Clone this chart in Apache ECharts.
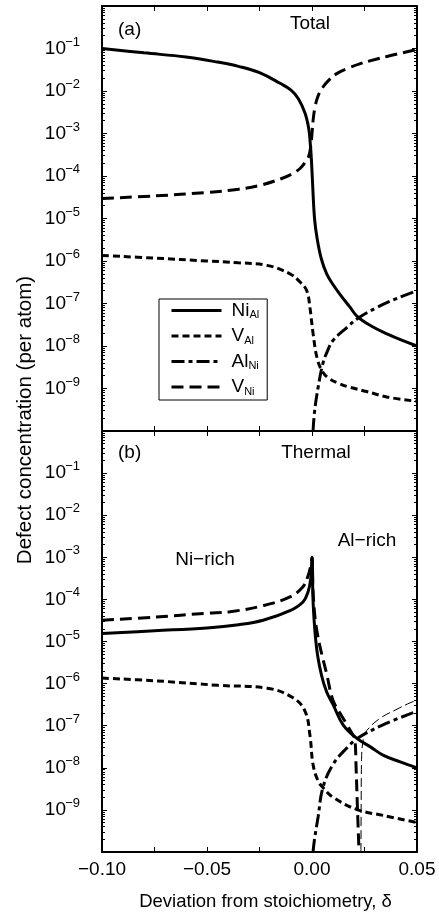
<!DOCTYPE html>
<html>
<head>
<meta charset="utf-8">
<script src="https://cdn.jsdelivr.net/npm/echarts@6/dist/echarts.min.js"></script>
<style>
  html, body { margin: 0; padding: 0; background: #fff; }
  #chart { width: 439px; height: 912px; }
</style>
</head>
<body>
<div id="chart"></div>
<script>
// deviation from stoichiometry range
var deltaMin = -0.10, deltaMax = 0.05;

// (a) total defect concentrations, [delta, concentration per atom]
var totalNiAl = [
  [-0.1, 1.0e-1], [-0.08, 7.9e-2], [-0.06, 6.3e-2], [-0.045, 4.8e-2], [-0.035, 3.8e-2],
  [-0.025, 2.7e-2], [-0.015, 1.5e-2], [-0.01, 1.05e-2], [-0.0065, 6.6e-3], [-0.0033, 3.0e-3],
  [-0.0015, 1.26e-3], [-0.0008, 5.6e-4], [-0.0003, 2.5e-4], [0.0004, 5.0e-5], [0.0012, 1.0e-5],
  [0.0024, 3.5e-6], [0.0045, 1.1e-6], [0.007, 5.0e-7], [0.01, 2.8e-7], [0.0135, 1.6e-7],
  [0.018, 8.3e-8], [0.0215, 5.0e-8], [0.028, 3.0e-8], [0.036, 1.9e-8], [0.043, 1.35e-8], [0.05, 1.0e-8]
];
var totalVAl = [
  [-0.1, 1.35e-6], [-0.075, 1.17e-6], [-0.05, 1.0e-6], [-0.035, 9.1e-7], [-0.0214, 7.9e-7],
  [-0.0105, 5.0e-7], [-0.0057, 3.2e-7], [-0.0025, 2.0e-7], [-0.001, 8.1e-8], [0.0005, 2.0e-8],
  [0.0025, 5.0e-9], [0.005, 2.5e-9], [0.008, 1.74e-9], [0.013, 1.3e-9], [0.018, 1.07e-9],
  [0.026, 8.5e-10], [0.0357, 6.3e-10], [0.05, 5.0e-10]
];
var totalAlNi = [
  [0.0005, 1.0e-10], [0.0012, 2.8e-10], [0.0029, 1.05e-9], [0.0052, 3.9e-9], [0.0075, 7.9e-9],
  [0.01, 1.35e-8], [0.0167, 2.75e-8], [0.0219, 4.5e-8], [0.031, 8.1e-8], [0.0405, 1.32e-7], [0.05, 2.0e-7]
];
var totalVNi = [
  [-0.1, 2.95e-5], [-0.075, 3.4e-5], [-0.05, 4.1e-5], [-0.035, 4.9e-5], [-0.025, 6.0e-5],
  [-0.015, 8.5e-5], [-0.0095, 1.12e-4], [-0.0057, 1.5e-4], [-0.003, 2.2e-4], [-0.0015, 3.0e-4],
  [-0.0006, 5.0e-4], [0.0, 1.0e-3], [0.0006, 2.2e-3], [0.0014, 4.1e-3], [0.0028, 7.4e-3],
  [0.0048, 1.15e-2], [0.008, 1.8e-2], [0.012, 2.6e-2], [0.017, 3.4e-2], [0.023, 4.4e-2],
  [0.03, 5.5e-2], [0.0357, 6.5e-2], [0.043, 7.9e-2], [0.05, 9.5e-2]
];

// (b) thermal defect concentrations
var thermalNiAl = [
  [-0.1, 1.55e-5], [-0.075, 1.8e-5], [-0.05, 2.1e-5], [-0.035, 2.5e-5], [-0.0233, 3.2e-5],
  [-0.0105, 5.4e-5], [-0.0043, 8.7e-5], [-0.0019, 1.5e-4], [-0.0006, 3.1e-4], [0.0, 1.0e-3],
  [0.0006, 7.1e-5], [0.0022, 6.9e-6], [0.0045, 1.6e-6], [0.007, 6.3e-7], [0.01, 3.2e-7],
  [0.0148, 1.05e-7], [0.0214, 5.0e-8], [0.028, 3.1e-8], [0.0338, 2.0e-8], [0.042, 1.38e-8], [0.05, 1.0e-8]
];
var thermalVAl = [
  [-0.1, 1.35e-6], [-0.075, 1.17e-6], [-0.0448, 9.1e-7], [-0.0214, 7.8e-7], [-0.009, 4.6e-7],
  [-0.0033, 2.2e-7], [-0.001, 6.0e-8], [0.0005, 1.2e-8], [0.0028, 5.0e-9], [0.0052, 3.4e-9],
  [0.01, 2.0e-9], [0.0214, 1.02e-9], [0.0338, 7.4e-10], [0.05, 5.0e-10]
];
var thermalAlNi = [
  [0.0005, 1.0e-10], [0.0012, 2.0e-10], [0.0029, 6.8e-10], [0.0052, 3.4e-9], [0.01, 1.2e-8],
  [0.0167, 3.0e-8], [0.0219, 5.1e-8], [0.0338, 1.05e-7], [0.05, 2.2e-7]
];
var thermalVNi = [
  [-0.1, 3.2e-5], [-0.075, 3.8e-5], [-0.05, 4.7e-5], [-0.039, 5.1e-5], [-0.0233, 7.1e-5],
  [-0.0105, 1.15e-4], [-0.0043, 2.0e-4], [-0.0019, 3.6e-4], [-0.0006, 6.3e-4], [0.0, 1.0e-3],
  [0.0006, 1.26e-4], [0.0024, 1.7e-5], [0.0071, 1.6e-6], [0.01, 4.0e-7], [0.0133, 2.0e-7],
  [0.0167, 1.05e-7], [0.0195, 6.0e-8], [0.0204, 5.0e-8], [0.021, 1.0e-8], [0.0216, 1.26e-9], [0.0224, 1.0e-10]
];
// thin dashed curve in (b)
var thermalVNiThin = [
  [0.0233, 1.0e-10], [0.0234, 1.0e-9], [0.0236, 1.6e-8], [0.0245, 5.0e-8], [0.026, 7.6e-8],
  [0.0324, 1.5e-7], [0.04, 2.4e-7], [0.0467, 3.5e-7], [0.05, 4.0e-7]
];

var legendNames = ['NiAl', 'VAl', 'AlNi', 'VNi'];
var legendRich = {
  NiAl: '{m|Ni}{s|Al}', VAl: '{m|V}{s|Al}', AlNi: '{m|Al}{s|Ni}', VNi: '{m|V}{s|Ni}'
};

var FONT = '"Liberation Sans", Arial, Helvetica, sans-serif';
var styles = {
  NiAl: { type: 'solid', width: 3 },
  VAl: { type: [7, 4], width: 3 },
  AlNi: { type: [13, 4, 4, 4], width: 3 },
  VNi: { type: [12, 6], width: 3 }
};

function decade(v) {
  return Math.round(Math.log(v) / Math.LN10);
}

function xAxisFor(gridIndex, pos, labels) {
  return {
    type: 'value', gridIndex: gridIndex, position: pos,
    min: deltaMin, max: deltaMax, interval: 0.025,
    axisLine: { show: true, onZero: false, lineStyle: { color: '#000', width: 2 } },
    axisTick: { show: true, inside: true, length: 5, lineStyle: { color: '#000', width: 1 } },
    splitLine: { show: false },
    axisLabel: {
      show: labels, margin: 8, color: '#000', fontFamily: FONT, fontSize: 19,
      showMinLabel: true, showMaxLabel: true, hideOverlap: false,
      formatter: function (v) {
        var k = Math.round(v * 1000);
        if (k % 50 !== 0) return '';
        return (k < 0 ? '\u2212' : '') + Math.abs(v).toFixed(2);
      }
    },
    name: labels ? 'Deviation from stoichiometry, \u03b4' : '',
    nameLocation: 'middle', nameGap: 40,
    nameTextStyle: { color: '#000', fontFamily: FONT, fontSize: 18.5, padding: [0, 0, 0, 12] }
  };
}

// part: 'base' draws the axis and the "10", 'exp' only the exponent, 'none' the mirrored right axis
function yAxisFor(gridIndex, pos, part) {
  var axis = {
    type: 'log', logBase: 10, gridIndex: gridIndex, position: pos,
    min: 1e-10, max: 1, interval: 1, splitNumber: 10,
    axisLine: { show: part !== 'exp', onZero: false, lineStyle: { color: '#000', width: 2 } },
    axisTick: { show: part !== 'exp', inside: true, length: 5, lineStyle: { color: '#000', width: 1 } },
    minorTick: { show: part !== 'exp', splitNumber: 9, length: 3, lineStyle: { color: '#000', width: 1 } },
    splitLine: { show: false },
    minorSplitLine: { show: false },
    axisLabel: { show: false }
  };
  if (part === 'base') {
    axis.axisLabel = {
      show: true, margin: 36, color: '#000', fontFamily: FONT, fontSize: 19,
      padding: [4, 0, 0, 0],
      showMinLabel: true, showMaxLabel: true, hideOverlap: false,
      formatter: function (v) {
        var e = decade(v);
        return (e === 0 || e === -10) ? '' : '10';
      }
    };
  } else if (part === 'exp') {
    axis.axisLabel = {
      show: true, margin: 22, color: '#000', fontFamily: FONT, fontSize: 13,
      verticalAlign: 'bottom', lineHeight: 13,
      showMinLabel: true, showMaxLabel: true, hideOverlap: false,
      formatter: function (v) {
        var e = decade(v);
        return (e === 0 || e === -10) ? '' : '\u2212' + (-e);
      }
    };
  }
  return axis;
}

function lineSeries(name, data, xi, yi, style) {
  var st = style || styles[name];
  return {
    name: name, type: 'line', data: data, xAxisIndex: xi, yAxisIndex: yi,
    symbol: 'none', showSymbol: false, smooth: 0.4,
    itemStyle: { color: '#000' },
    lineStyle: { color: '#000', width: st.width, type: st.type, cap: 'butt' },
    emphasis: { disabled: true }, animation: false
  };
}

var chart = echarts.init(document.getElementById('chart'), null, { renderer: 'canvas' });

chart.setOption({
  animation: false,
  backgroundColor: '#fff',
  textStyle: { fontFamily: FONT },
  grid: [
    { left: 102, top: 6, width: 315, height: 425, containLabel: false },
    { left: 102, top: 431, width: 315, height: 424, containLabel: false }
  ],
  xAxis: [
    xAxisFor(0, 'bottom', false), xAxisFor(0, 'top', false),
    xAxisFor(1, 'bottom', true), xAxisFor(1, 'top', false)
  ],
  yAxis: [
    yAxisFor(0, 'left', 'base'), yAxisFor(0, 'right', 'none'),
    yAxisFor(1, 'left', 'base'), yAxisFor(1, 'right', 'none'),
    yAxisFor(0, 'left', 'exp'), yAxisFor(1, 'left', 'exp')
  ],
  legend: {
    data: legendNames,
    orient: 'vertical', left: 159, top: 299,
    selectedMode: false, itemWidth: 50, itemHeight: 14, itemGap: 6,
    padding: [2, 8, 3, 11], borderColor: '#000', borderWidth: 1, borderRadius: 0,
    backgroundColor: '#fff',
    lineStyle: { width: 3 },
    itemStyle: { opacity: 0, borderWidth: 0 },
    formatter: function (n) { return legendRich[n]; },
    textStyle: {
      color: '#000', padding: [0, 0, 0, 5],
      rich: {
        m: { fontFamily: FONT, fontSize: 19, color: '#000' },
        s: { fontFamily: FONT, fontSize: 11, color: '#000', padding: [9, 0, 0, 0] }
      }
    }
  },
  graphic: [
    { type: 'text', x: 118, y: 30, style: { text: '(a)', font: '19px ' + FONT, fill: '#000', verticalAlign: 'middle' } },
    { type: 'text', x: 310, y: 24, style: { text: 'Total', font: '19px ' + FONT, fill: '#000', align: 'center', verticalAlign: 'middle' } },
    { type: 'text', x: 118, y: 453, style: { text: '(b)', font: '19px ' + FONT, fill: '#000', verticalAlign: 'middle' } },
    { type: 'text', x: 316, y: 453, style: { text: 'Thermal', font: '19px ' + FONT, fill: '#000', align: 'center', verticalAlign: 'middle' } },
    { type: 'text', x: 205, y: 560, style: { text: 'Ni\u2212rich', font: '19px ' + FONT, fill: '#000', align: 'center', verticalAlign: 'middle' } },
    { type: 'text', x: 367, y: 541, style: { text: 'Al\u2212rich', font: '19px ' + FONT, fill: '#000', align: 'center', verticalAlign: 'middle' } },
    { type: 'text', x: 25, y: 420, rotation: Math.PI / 2,
      style: { text: 'Defect concentration (per atom)', font: '20.5px ' + FONT, fill: '#000', align: 'center', verticalAlign: 'middle' } }
  ],
  series: [
    lineSeries('NiAl', totalNiAl, 0, 0),
    lineSeries('VAl', totalVAl, 0, 0),
    lineSeries('AlNi', totalAlNi, 0, 0),
    lineSeries('VNi', totalVNi, 0, 0),
    lineSeries('NiAl', thermalNiAl, 2, 2),
    lineSeries('VAl', thermalVAl, 2, 2),
    lineSeries('AlNi', thermalAlNi, 2, 2),
    lineSeries('VNi', thermalVNi, 2, 2),
    lineSeries('VNi thin', thermalVNiThin, 2, 2, { type: [9, 4], width: 1 })
  ]
});
</script>
</body>
</html>
